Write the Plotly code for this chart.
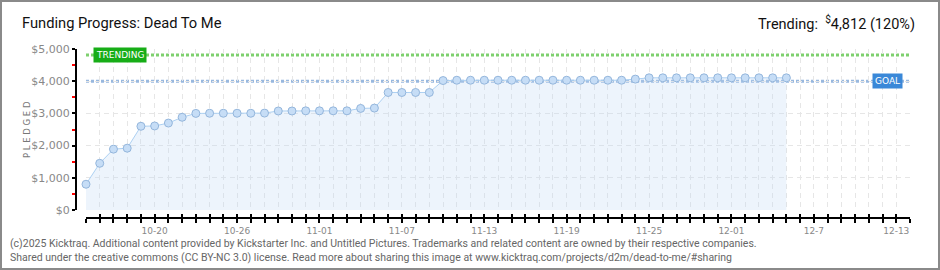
import pandas as pd
import plotly.graph_objects as go

# ---------------- data ----------------
start_date = "2025-10-15"
end_date = "2025-12-14"
pledged = [800, 1450, 1890, 1920, 2600, 2610, 2700, 2880, 3000, 3005,
           3005, 3005, 3005, 3010, 3075, 3075, 3080, 3080, 3080, 3080,
           3155, 3165, 3650, 3650, 3650, 3650, 4020, 4030, 4030, 4030,
           4030, 4030, 4030, 4030, 4030, 4030, 4030, 4030, 4030, 4030,
           4065, 4105, 4105, 4105, 4105, 4105, 4105, 4105, 4105, 4105,
           4105, 4105]
dates = list(pd.date_range(start_date, periods=len(pledged), freq="D"))
axis_days = list(pd.date_range(start_date, end_date, freq="D"))
label_dates = ["2025-10-20", "2025-10-26", "2025-11-01", "2025-11-07", "2025-11-13",
               "2025-11-19", "2025-11-25", "2025-12-01", "2025-12-07", "2025-12-13"]
label_texts = ["10-20", "10-26", "11-01", "11-07", "11-13",
               "11-19", "11-25", "12-01", "12-7", "12-13"]
goal = 4000
trending = 4812
trending_pct = 120
y_ticks = [0, 1000, 2000, 3000, 4000, 5000]
y_tick_text = ["$0", "$1,000", "$2,000", "$3,000", "$4,000", "$5,000"]

# ---------------- geometry helpers ----------------
W, H = 940, 270
ML, MR, MT, MB = 60, 30, 49, 40
PW, PH = W - ML - MR, H - MT - MB


def fx(px):
    return (px - ML) / PW


def fy(py):
    return (H - MB - py) / PH


lab_map = {pd.Timestamp(d): t for d, t in zip(label_dates, label_texts)}
tick_text = [lab_map.get(d, "") for d in axis_days]

fig = go.Figure()

fig.add_trace(go.Scatter(
    x=dates, y=pledged, mode="lines+markers",
    line=dict(color="#acd0f2", width=1),
    marker=dict(size=8, color="#c6ddf6", line=dict(color="#94b6dc", width=1)),
    fill="tozeroy", fillcolor="rgba(190,215,245,0.27)",
    cliponaxis=False, hoverinfo="skip", showlegend=False,
))
# carrier trace for the overlay axis (upward ticks)
fig.add_trace(go.Scatter(x=[dates[0]], y=[None], xaxis="x2", mode="markers",
                         showlegend=False, hoverinfo="skip"))

grid = dict(gridcolor="#e6e6e6", griddash="5px,4px", gridwidth=1)

fig.update_layout(
    width=W, height=H,
    margin=dict(l=ML, r=MR, t=MT, b=MB),
    paper_bgcolor="white", plot_bgcolor="rgba(0,0,0,0)",
    showlegend=False,
    xaxis=dict(
        type="date", range=[start_date, end_date],
        domain=[fx(86), 1], anchor="free", position=fy(218),
        tickmode="array", tickvals=axis_days, ticktext=tick_text, tickangle=0,
        ticks="outside", ticklen=4, tickcolor="black", tickwidth=1.5,
        showline=True, linecolor="black", linewidth=2,
        tickfont=dict(family="DejaVu Sans", size=9, color="#888"),
        showgrid=True, zeroline=False, **grid,
    ),
    xaxis2=dict(
        type="date", range=[start_date, end_date], overlaying="x",
        domain=[fx(86), 1], anchor="free", position=fy(218),
        tickmode="array", tickvals=axis_days, tickangle=0,
        ticks="inside", ticklen=4, tickcolor="black", tickwidth=1.5,
        showline=False, showgrid=False, zeroline=False, showticklabels=False,
    ),
    yaxis=dict(
        range=[0, 5000], domain=[fy(210), 1], anchor="free", position=fx(76),
        tickmode="array", tickvals=y_ticks, ticktext=y_tick_text,
        ticks="outside", ticklen=3, tickcolor="black", tickwidth=1.5,
        minor=dict(tickmode="array", tickvals=[500, 1500, 2500, 3500, 4500],
                   ticks="outside", ticklen=3, tickcolor="red", tickwidth=1.5),
        showline=True, linecolor="black", linewidth=2,
        tickfont=dict(family="DejaVu Sans", size=11, color="#888"),
        showgrid=True, zeroline=False, **grid,
    ),
)

# goal / trending lines
fig.add_shape(type="line", xref="x domain", yref="y", x0=0, x1=1, y0=trending, y1=trending,
              line=dict(color="#7ed06e", width=3, dash="3px,2px"), layer="below")
fig.add_shape(type="line", xref="x domain", yref="y", x0=0, x1=1, y0=goal, y1=goal,
              line=dict(color="#98b8df", width=3, dash="3px,2px"), layer="below")

fig.add_annotation(x=fx(120), xref="paper", y=trending, yref="y", text="TRENDING",
                   xanchor="center", yanchor="middle",
                   showarrow=False, bgcolor="#17ad17", borderpad=2,
                   font=dict(family="DejaVu Sans", size=9, color="white"))
fig.add_annotation(x=fx(887), xref="paper", y=goal, yref="y", text="GOAL",
                   xanchor="center", yanchor="middle",
                   showarrow=False, bgcolor="#3a88d8", borderpad=2,
                   font=dict(family="DejaVu Sans", size=9, color="white"))

# titles
fig.add_annotation(x=fx(20), y=fy(23), xref="paper", yref="paper", xanchor="left",
                   yanchor="middle", showarrow=False, text="Funding Progress: Dead To Me",
                   font=dict(family="Roboto", size=14.7, color="#111"))
fig.add_annotation(x=fx(917), y=fy(23), xref="paper", yref="paper", xanchor="right",
                   yanchor="middle", showarrow=False,
                   text=f"Trending:  <sup>$</sup>{trending:,} ({trending_pct}%)",
                   font=dict(family="Roboto", size=14.5, color="#111"))
fig.add_annotation(x=fx(20), y=fy(130), xref="paper", yref="paper", textangle=-90,
                   showarrow=False, text="P L E D G E D",
                   font=dict(family="DejaVu Sans", size=8.5, color="#777"))

footer1 = ("(c)2025 Kicktraq. Additional content provided by Kickstarter Inc. and Untitled "
           "Pictures. Trademarks and related content are owned by their respective companies.")
footer2 = ("Shared under the creative commons (CC BY-NC 3.0) license. Read more about sharing "
           "this image at www.kicktraq.com/projects/d2m/dead-to-me/#sharing")
for txt, py in [(footer1, 243), (footer2, 257)]:
    fig.add_annotation(x=fx(8), y=fy(py), xref="paper", yref="paper", xanchor="left",
                       yanchor="middle", showarrow=False, text=txt,
                       font=dict(family="Roboto", size=10.5, color="#666"))

# outer border
fig.add_shape(type="rect", xref="paper", yref="paper", x0=fx(1), x1=fx(939),
              y0=fy(269), y1=fy(1), line=dict(color="#8a8a8a", width=2), layer="above")

fig.write_html("out.html")
